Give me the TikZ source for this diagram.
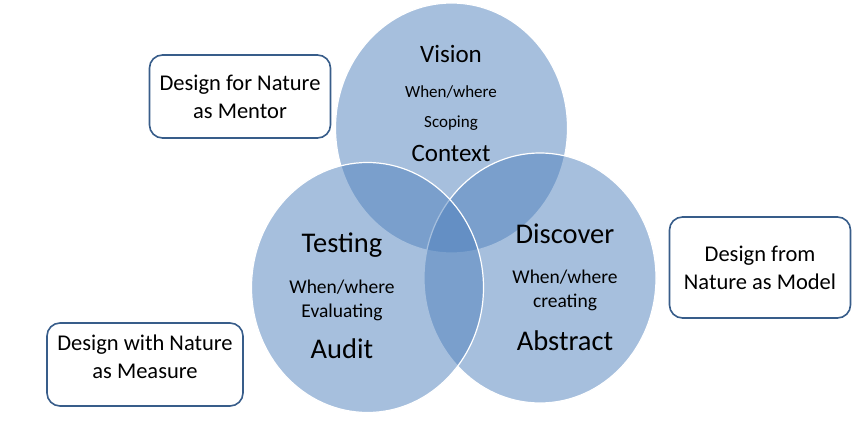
\documentclass[tikz,border=0pt]{standalone}
\usepackage{fontspec}
\setmainfont{Carlito}
\usetikzlibrary{shapes.geometric}
\definecolor{ringblue}{RGB}{79,129,189}
\definecolor{boxedge}{RGB}{56,93,138}

\begin{document}
\begin{tikzpicture}[x=1pt,y=-1pt,
    ring/.style={ellipse,draw=white,line width=1.2pt,fill=ringblue,fill opacity=0.5,
                 minimum width=232pt,minimum height=250pt,inner sep=0pt},
    note/.style={draw=boxedge,line width=1.6pt,rounded corners=13pt,fill=white,
                 align=center,inner sep=0pt,font=\fontsize{22.5}{28}\selectfont},
    head/.style={anchor=base,font=\fontsize{28.5}{30}\selectfont},
    headtop/.style={anchor=base,font=\fontsize{25}{27}\selectfont},
    sub/.style={anchor=base,font=\fontsize{19.5}{22}\selectfont},
    subtop/.style={anchor=base,font=\fontsize{17}{19}\selectfont}]
    \useasboundingbox[fill=white] (0,0) rectangle (865,436);

    % the three rings
    \path
    (451.5,128) node[ring](vision) {}
    (540,278) node[ring](discover) {}
    (367.5,287.5) node[ring](testing) {};

    % ring texts
    \path
    (451,63) node[headtop](tvision) {Vision}
    (451,97) node[subtop](tvwhen) {When/where}
    (451,127) node[subtop](tvscope) {Scoping}
    (451,161) node[headtop](tvcontext) {Context}
    (342,252) node[head](ttesting) {Testing}
    (342,293) node[sub](ttwhen) {When/where}
    (342,317) node[sub](tteval) {Evaluating}
    (342,358) node[head](ttaudit) {Audit}
    (565,243) node[head](tdiscover) {Discover}
    (565,283) node[sub](tdwhen) {When/where}
    (565,307) node[sub](tdcreate) {creating}
    (565,350) node[head](tdabstract) {Abstract};

    % the three notes
    \path
    (240,96.5) node[note,minimum width=181pt,minimum height=83pt](mentor) {Design for Nature\\as Mentor}
    (760,267.5) node[note,minimum width=181pt,minimum height=101pt](model) {Design from\\Nature as Model}
    (145,364.5) node[note,minimum width=196pt,minimum height=83pt](measure) {Design with Nature\\as Measure\\[-12pt]};
\end{tikzpicture}
\end{document}
